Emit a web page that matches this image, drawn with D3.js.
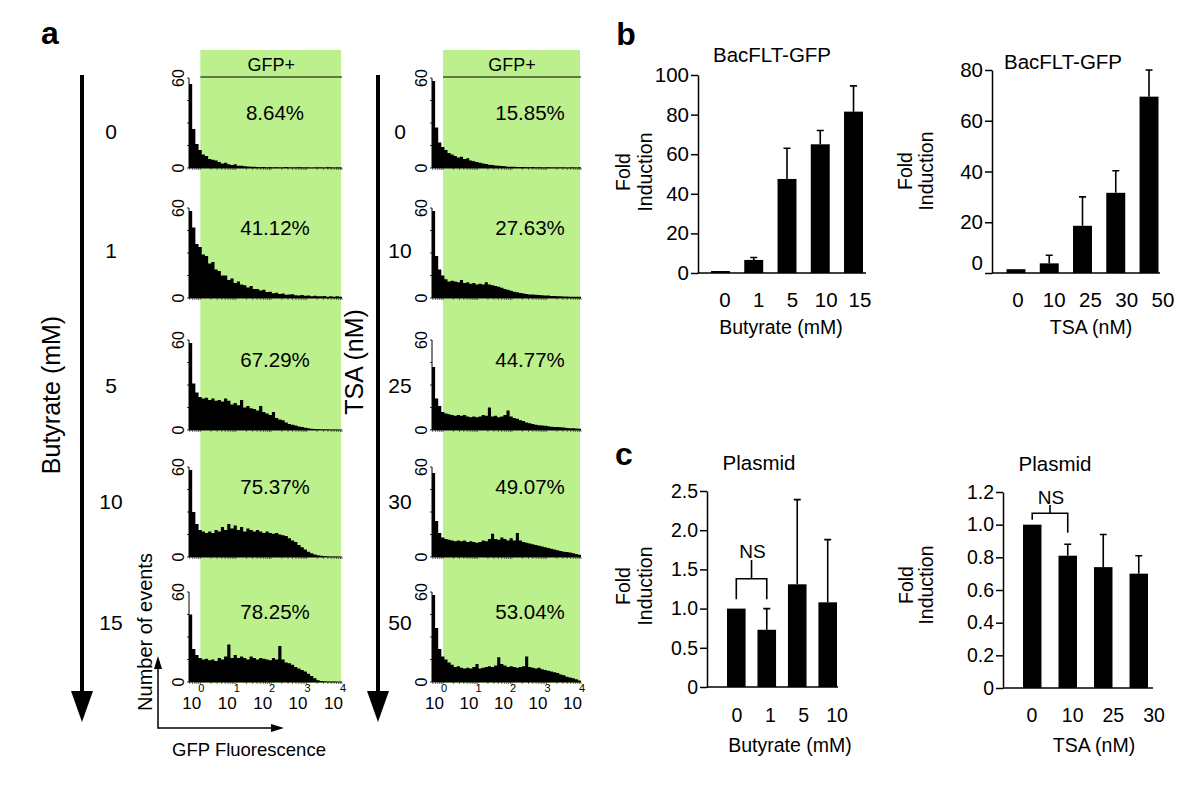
<!DOCTYPE html>
<html>
<head>
<meta charset="utf-8">
<script src="https://cdn.jsdelivr.net/npm/d3@7/dist/d3.min.js"></script>
<style>
  body { margin: 0; background: #fff; }
  svg { display: block; font-family: "Liberation Sans", Arial, sans-serif; }
</style>
</head>
<body>
<svg id="fig" width="1200" height="789"></svg>
<script>
// ---------- panel a : flow cytometry histograms (counts 0-60, 48 bins over 10^-0.32 .. 10^4) ----------
const butyrateDoses = ["0", "1", "5", "10", "15"]
const butyratePct = ["8.64%", "41.12%", "67.29%", "75.37%", "78.25%"]
const tsaDoses = ["0", "10", "25", "30", "50"]
const tsaPct = ["15.85%", "27.63%", "44.77%", "49.07%", "53.04%"]
const gfpDecades = [0, 1, 2, 3, 4]
const countTicks = [0, 15, 30, 45, 60]

const histBut0 = [56, 26, 16, 12, 9, 8, 6, 5.5, 5, 4, 3, 3.5, 2.5, 2, 2.5, 1.5, 1.5, 1.2, 1, 0.8, 0.9, 0.6, 0.5, 0.7, 0.4, 0.5, 0.3, 0.5, 0.4, 0.3, 0.6, 0.3, 0.4, 0.3, 0.5, 0.3, 0.3, 0.4, 0.2, 0.3, 0.4, 0.3, 0.2, 0.5, 0.3, 0.2, 0.3, 0.2]
const histBut1 = [58, 47, 36, 34, 29, 28, 23, 24, 19, 18, 15, 15, 12, 13, 10, 11, 9, 8.5, 7, 8, 6, 6, 5, 5.5, 4, 4.2, 3.2, 3.5, 2.6, 3, 2.2, 2.4, 2.5, 1.8, 1.7, 2, 1.5, 1.6, 1.2, 1.5, 1.1, 1.2, 1.3, 0.9, 1.1, 0.8, 1.2, 0.9]
const histBut5 = [58, 31, 25, 22, 21, 21.5, 20, 21, 19.5, 20, 19, 21, 19.5, 17, 18, 16.5, 20, 15, 16, 14.5, 14, 13, 16, 12, 11, 10, 12, 8, 7, 6.5, 5, 4, 3.5, 3, 2.3, 2, 1.5, 1.1, 0.8, 0.6, 0.5, 0.4, 0.3, 0.4, 0.2, 0.1, 0.1, 0]
const histBut10 = [58, 30, 22, 18, 17, 16, 17, 16, 18, 17, 20, 18, 22, 19, 21, 18, 20, 17, 19, 18, 17, 18, 17, 16, 17, 16, 15.5, 16, 15, 14.5, 14, 12.5, 11, 10, 8, 6.5, 5, 3.5, 2.5, 1.7, 1.1, 0.8, 0.5, 0.3, 0.2, 0.1, 0.1, 0]
const histBut15 = [45, 22, 18, 16, 15, 15.5, 14.5, 15, 14, 16, 15, 17, 25, 16, 18, 16, 17, 16, 15, 17, 16, 15, 16, 15.5, 15, 14.5, 16, 15, 24, 15, 13, 12.5, 11.5, 10, 9, 8, 7, 5.5, 4, 2.5, 1.2, 0.6, 0.3, 0.2, 0.1, 0.1, 0, 0]
const histTsa0 = [58, 27, 17, 14, 12, 10, 9, 8, 7, 7.5, 6, 6.5, 5, 4.5, 4, 3.5, 3, 2.6, 2.2, 2, 1.7, 1.5, 1.3, 1.1, 0.9, 0.9, 0.8, 0.7, 0.6, 0.6, 0.5, 0.5, 0.6, 0.4, 0.5, 0.4, 0.3, 0.5, 0.3, 0.4, 0.3, 0.3, 0.4, 0.2, 0.3, 0.3, 0.2, 0.3]
const histTsa10 = [58, 28, 19, 15, 12.5, 11, 11.5, 11, 10.5, 12, 10, 10.5, 9.5, 10, 9, 9.5, 9, 10.5, 9, 8.5, 8, 7.5, 6.8, 6, 5.5, 4.8, 4.2, 3.8, 3.4, 3, 2.6, 2.4, 2.3, 2.1, 2, 1.9, 1.7, 1.6, 1.4, 1.3, 1.2, 1.1, 1, 1, 0.9, 0.9, 0.8, 0.8]
const histTsa25 = [42, 21, 16, 12, 11, 10.5, 10, 9.5, 10, 9.5, 10, 9, 8.5, 9, 8.5, 9, 10, 9.5, 15, 9, 9.5, 8.5, 9, 10, 13, 9, 8, 7.5, 6.5, 6, 5, 4.5, 4, 3.5, 3.2, 3, 2.8, 2.5, 2.2, 2, 2, 1.8, 1.6, 1.4, 1.2, 1.1, 1, 0.8]
const histTsa30 = [56, 24, 16, 13, 12, 11.5, 11, 10.5, 11, 10.5, 11, 10, 10.5, 10, 9.5, 10, 11, 10.5, 12, 15.5, 12, 11.5, 13, 12, 11, 12.5, 11, 16, 11, 10, 9.5, 9, 8.5, 8, 7.5, 7, 6.5, 6, 5.5, 5, 4.5, 4, 3.5, 3.3, 3, 2.5, 2, 1.5]
const histTsa50 = [58, 36, 22, 17, 15, 13, 11.5, 10, 10.5, 9.5, 9, 9.5, 9, 10, 12, 9, 9.5, 10, 10.5, 10, 11, 16.5, 12, 11, 10, 10.5, 10, 9.5, 10, 10.5, 17, 10, 9.5, 9, 9.5, 8.5, 8, 7.5, 7, 6.5, 6, 5, 4.5, 3.5, 3, 2.5, 1.8, 1]

const butyrateHists = [histBut0, histBut1, histBut5, histBut10, histBut15]
const tsaHists = [histTsa0, histTsa10, histTsa25, histTsa30, histTsa50]

// ---------- panel b : BacFLT-GFP fold induction ----------
const bButDose = ["0", "1", "5", "10", "15"]
const bButMean = [1, 6.6, 47.5, 65, 81.5]
const bButErr = [0, 1.2, 15.5, 7, 13]
const bButTicks = [0, 20, 40, 60, 80, 100]

const bTsaDose = ["0", "10", "25", "30", "50"]
const bTsaMean = [1.5, 3.8, 18.6, 31.6, 69.5]
const bTsaErr = [0, 3.2, 11.4, 8.7, 10.5]
const bTsaTicks = [0, 20, 40, 60, 80]

// ---------- panel c : plasmid fold induction ----------
const cButDose = ["0", "1", "5", "10"]
const cButMean = [1.0, 0.73, 1.31, 1.08]
const cButErr = [0, 0.27, 1.08, 0.80]
const cButTicks = [0, 0.5, 1.0, 1.5, 2.0, 2.5]
const cButNS = {from: "0", to: "1", legFrom: 1.12, legTo: 1.12, arm: 1.38, stem: 1.62}

const cTsaDose = ["0", "10", "25", "30"]
const cTsaMean = [1.0, 0.81, 0.74, 0.70]
const cTsaErr = [0, 0.07, 0.20, 0.11]
const cTsaTicks = [0, 0.2, 0.4, 0.6, 0.8, 1.0, 1.2]
const cTsaNS = {from: "0", to: "10", legFrom: 1.03, legTo: 0.95, arm: 1.07, stem: 1.12}


const svg = d3.select("#fig")
const rowTops = [78, 208, 340, 467, 592]
const histH = 90
const numberY = [131, 250, 385, 501, 622]
const logMin = -0.32

function panelLetter(txt, x, y) {
    svg.append("text").text(txt).attr("x", x).attr("y", y)
        .attr("text-anchor", "middle").style("font-size", "32px").style("font-weight", "bold")
}

function vText(txt, x, y, size) {
    svg.append("text").text(txt)
        .attr("transform", `translate(${x},${y}) rotate(-90)`)
        .attr("text-anchor", "middle").style("font-size", size + "px")
}

function bigArrow(x, y0, y1) {
    svg.append("line").attr("x1", x).attr("x2", x).attr("y1", y0).attr("y2", y1 - 28)
        .attr("stroke", "#000").attr("stroke-width", 4)
    svg.append("path").attr("d", `M${x - 11},${y1 - 31}L${x + 11},${y1 - 31}L${x},${y1}Z`).attr("fill", "#000")
}

function histColumn(hists, doses, pcts, x0, x1, numX, pctX) {
    let x = d3.scaleLog().domain([Math.pow(10, logMin), 1e4]).range([x0, x1])
    let g = svg.append("g")

    // GFP+ gate
    g.append("rect").attr("x", x(1)).attr("y", 50).attr("width", x1 - 1 - x(1)).attr("height", 683 - 50)
        .attr("fill", "#bcf08c")
    g.append("text").text("GFP+").attr("x", (x(1) + x1) / 2).attr("y", 71)
        .attr("text-anchor", "middle").style("font-size", "18px")
    g.append("line").attr("x1", x(1)).attr("x2", x1).attr("y1", 77).attr("y2", 77)
        .attr("stroke", "#000").attr("stroke-width", 1)

    let step = (4 - logMin) / hists[0].length

    hists.forEach((counts, r) => {
        let top = rowTops[r]
        let y = d3.scaleLinear().domain([0, 60]).range([top + histH, top])
        let pts = counts.map((c, i) => [Math.pow(10, logMin + i * step), c])
        pts.push([1e4, counts[counts.length - 1]])

        let area = d3.area()
            .x(d => x(d[0]))
            .y0(y(0))
            .y1(d => y(d[1]))
            .curve(d3.curveStepAfter)

        g.append("path").datum(pts).attr("d", area).attr("fill", "#000")

        // axes
        g.append("line").attr("x1", x0).attr("x2", x0).attr("y1", y(60)).attr("y2", y(0))
            .attr("stroke", "#000").attr("stroke-width", 1)
        g.append("line").attr("x1", x0).attr("x2", x1).attr("y1", y(0)).attr("y2", y(0))
            .attr("stroke", "#000").attr("stroke-width", 1)
        g.selectAll(null).data(countTicks).join("line")
            .attr("x1", x0 - 2).attr("x2", x0).attr("y1", d => y(d)).attr("y2", d => y(d))
            .attr("stroke", "#000").attr("stroke-width", 0.8)
        g.selectAll(null).data(x.ticks()).join("line")
            .attr("x1", d => x(d)).attr("x2", d => x(d)).attr("y1", y(0)).attr("y2", y(0) + 2)
            .attr("stroke", "#333").attr("stroke-width", 0.7)
        ;[60, 0].forEach(v => {
            g.append("text").text(v)
                .attr("transform", `translate(${x0 - 5},${y(v)}) rotate(-90)`)
                .attr("text-anchor", "middle").style("font-size", "16px")
        })

        g.append("text").text(pcts[r]).attr("x", pctX).attr("y", top + (r === 0 ? 42 : 27))
            .attr("text-anchor", "middle").style("font-size", "20.5px")
        g.append("text").text(doses[r]).attr("x", numX).attr("y", numberY[r] + 7.5)
            .attr("text-anchor", "middle").style("font-size", "21px")
    })

    // decade labels under last histogram
    gfpDecades.forEach(k => {
        let px = x(Math.pow(10, k))
        g.append("text").text("10").attr("x", px - 8.5).attr("y", 709)
            .attr("text-anchor", "middle").style("font-size", "17px")
        g.append("text").text(k).attr("x", px + 1).attr("y", 692)
            .attr("text-anchor", "middle").style("font-size", "11px").attr("fill", "#000")
    })
}

function barChart(o) {
    let g = svg.append("g")
    let y = d3.scaleLinear().domain([0, o.ticks[o.ticks.length - 1]]).range(o.yRange)
    let x = d3.scaleBand().domain(o.cats).range(o.barRange).paddingInner(o.pad).paddingOuter(0)
    let xl = d3.scalePoint().domain(o.cats).range(o.labelRange)

    let yAxis = g.append("g").attr("transform", `translate(${o.axisX},0)`)
        .call(d3.axisLeft(y).tickValues(o.ticks).tickSize(7).tickPadding(2).tickSizeOuter(0).tickFormat(o.fmt))
    yAxis.select(".domain").attr("stroke-width", 1.5)
    yAxis.selectAll(".tick line").attr("stroke-width", 1.5)
    yAxis.selectAll("text").style("font-size", o.font + "px").style("font-family", "inherit").attr("fill", "#000")
    if (o.zeroRaise) yAxis.selectAll(".tick text").filter(d => d === 0).attr("dy", o.zeroRaise)

    g.append("line").attr("x1", o.axisX).attr("x2", o.xEnd).attr("y1", y(0)).attr("y2", y(0))
        .attr("stroke", "#000").attr("stroke-width", 1.5)

    g.selectAll(".bar").data(o.cats).join("rect").attr("class", "bar")
        .attr("x", d => x(d)).attr("width", x.bandwidth())
        .attr("y", (d, i) => y(o.mean[i])).attr("height", (d, i) => y(0) - y(o.mean[i]))
        .attr("fill", "#000")

    let errs = o.cats.map((c, i) => ({c: c, m: o.mean[i], e: o.err[i]})).filter(d => d.e > 0)
    g.selectAll(".err").data(errs).join("path").attr("class", "err")
        .attr("d", d => {
            let cx = x(d.c) + x.bandwidth() / 2
            return `M${cx},${y(d.m)}V${y(d.m + d.e)}M${cx - 3.5},${y(d.m + d.e)}H${cx + 3.5}`
        })
        .attr("stroke", "#000").attr("stroke-width", 1.6).attr("fill", "none")

    g.selectAll(".xl").data(o.cats).join("text").attr("class", "xl")
        .text(d => d).attr("x", d => xl(d)).attr("y", o.labelY)
        .attr("text-anchor", "middle").style("font-size", o.font + "px")

    g.append("text").text(o.title).attr("x", o.titlePos[0]).attr("y", o.titlePos[1])
        .attr("text-anchor", "middle").style("font-size", "20.5px")
    g.append("text").text(o.xTitle).attr("x", o.xTitlePos[0]).attr("y", o.xTitlePos[1])
        .attr("text-anchor", "middle").style("font-size", "19.5px")
    vText("Fold", o.foldX[0], o.foldY, 19.5)
    vText("Induction", o.foldX[1], o.foldY, 19.5)

    if (o.ns) {
        let n = o.ns
        let xa = x(n.from) + x.bandwidth() / 2, xb = x(n.to) + x.bandwidth() / 2, xm = (xa + xb) / 2
        g.append("path")
            .attr("d", `M${xa},${y(n.legFrom)}V${y(n.arm)}H${xb}V${y(n.legTo)}M${xm},${y(n.arm)}V${y(n.stem)}`)
            .attr("stroke", "#000").attr("stroke-width", 1.6).attr("fill", "none")
        g.append("text").text("NS").attr("x", xm + 1).attr("y", y(n.stem) - 1.5)
            .attr("text-anchor", "middle").style("font-size", "19px")
    }
}

// ---------- panel a ----------
panelLetter("a", 50, 44)
bigArrow(82, 75, 722)
bigArrow(378, 75, 722)
vText("Butyrate (mM)", 60, 395, 25)
vText("TSA (nM)", 363, 362, 25)

histColumn(butyrateHists, butyrateDoses, butyratePct, 189, 342, 111, 275)
histColumn(tsaHists, tsaDoses, tsaPct, 432, 581, 400, 530)

// little axes legend
svg.append("path").attr("d", "M158,668V728H272").attr("stroke", "#000").attr("stroke-width", 1.5).attr("fill", "none")
svg.append("path").attr("d", "M154,669L162,669L158,656Z").attr("fill", "#000")
svg.append("path").attr("d", "M271,724L271,732L284,728Z").attr("fill", "#000")
vText("Number of events", 152, 632, 20)
svg.append("text").text("GFP Fluorescence").attr("x", 249).attr("y", 756)
    .attr("text-anchor", "middle").style("font-size", "18.5px")

// ---------- panel b ----------
panelLetter("b", 626, 45)
barChart({cats: bButDose, mean: bButMean, err: bButErr, ticks: bButTicks, fmt: d3.format("d"),
    yRange: [273, 75], axisX: 698, xEnd: 866, barRange: [711, 863], pad: 0.43,
    labelRange: [725, 860], labelY: 307, font: 20.5,
    title: "BacFLT-GFP", titlePos: [772, 62], xTitle: "Butyrate (mM)", xTitlePos: [781, 334],
    foldX: [630, 652], foldY: 172})
barChart({cats: bTsaDose, mean: bTsaMean, err: bTsaErr, ticks: bTsaTicks, fmt: d3.format("d"),
    yRange: [273, 70], axisX: 992, xEnd: 1160, barRange: [1006.5, 1158.5], pad: 0.43,
    labelRange: [1018, 1163], labelY: 307, font: 20.5, zeroRaise: "-0.18em",
    title: "BacFLT-GFP", titlePos: [1063, 69], xTitle: "TSA (nM)", xTitlePos: [1091, 334],
    foldX: [912, 933], foldY: 171})

// ---------- panel c ----------
panelLetter("c", 624, 465)
let decFmt = d => d === 0 ? "0" : d3.format(".1f")(d)
barChart({cats: cButDose, mean: cButMean, err: cButErr, ticks: cButTicks, fmt: decFmt,
    yRange: [687, 491], axisX: 707, xEnd: 838, barRange: [727, 837], pad: 0.39,
    labelRange: [737, 837], labelY: 722, font: 19.5, ns: cButNS,
    title: "Plasmid", titlePos: [759, 470], xTitle: "Butyrate (mM)", xTitlePos: [790, 752],
    foldX: [630, 652], foldY: 586})
barChart({cats: cTsaDose, mean: cTsaMean, err: cTsaErr, ticks: cTsaTicks, fmt: decFmt,
    yRange: [688, 492], axisX: 1003, xEnd: 1153, barRange: [1023, 1148], pad: 0.48,
    labelRange: [1032, 1154], labelY: 722, font: 19.5, ns: cTsaNS,
    title: "Plasmid", titlePos: [1055, 471], xTitle: "TSA (nM)", xTitlePos: [1094, 752],
    foldX: [913, 933], foldY: 585})
</script>
</body>
</html>
